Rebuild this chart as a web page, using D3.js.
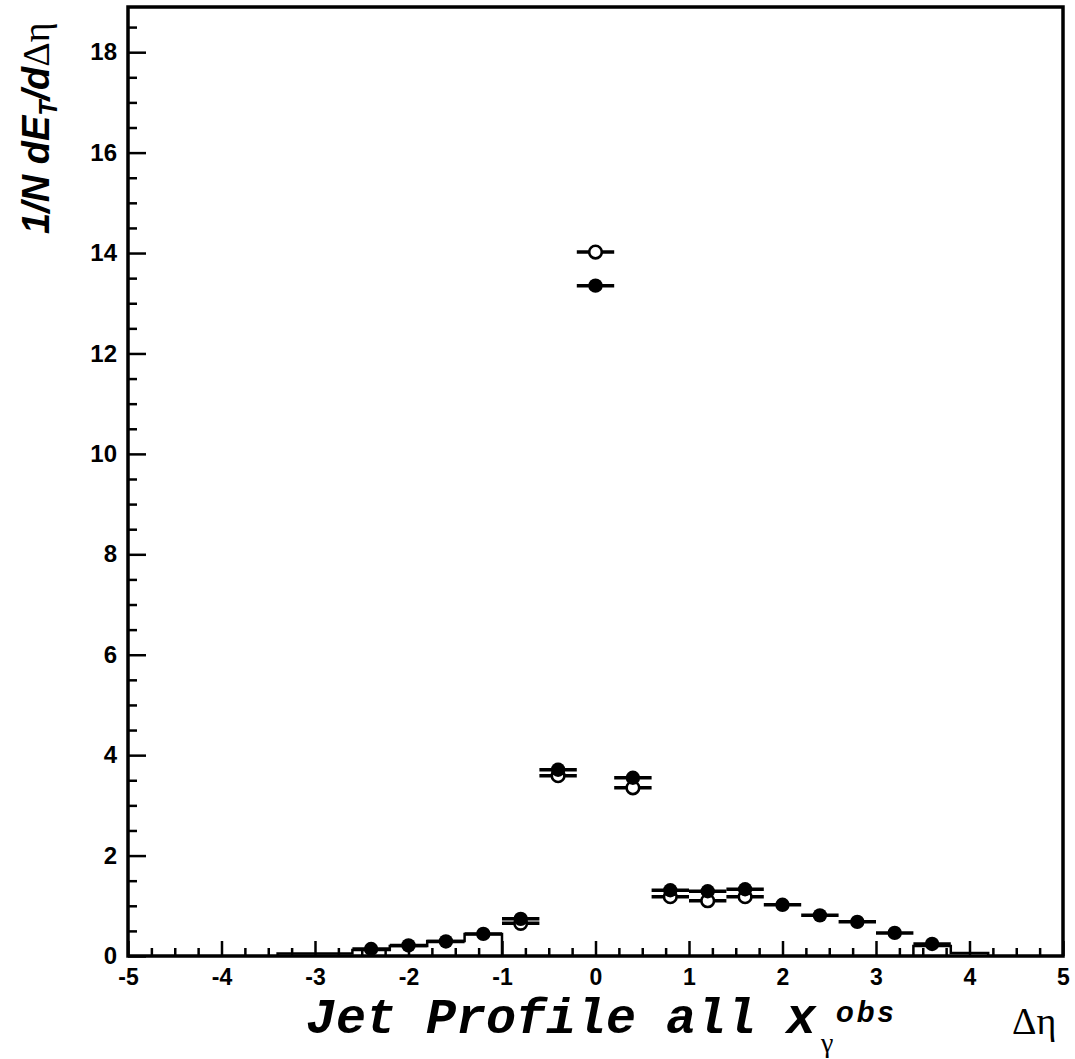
<!DOCTYPE html>
<html>
<head>
<meta charset="utf-8">
<script src="https://cdn.jsdelivr.net/npm/d3@7"></script>
<style>
  body { margin: 0; background: #fff; }
  .tick text { font-family: "Liberation Sans", Arial, sans-serif; font-weight: bold; }
</style>
</head>
<body>
<div class="vis"></div>
<script>
// frame dimensions
const FRAME_WIDTH = 1075;
const FRAME_HEIGHT = 1059;
const MARGINS = {left: 128, right: 12, top: 7, bottom: 103};

const VIS_WIDTH = FRAME_WIDTH - MARGINS.left - MARGINS.right;
const VIS_HEIGHT = FRAME_HEIGHT - MARGINS.top - MARGINS.bottom;

// data
const bin_centers = [-2.4, -2.0, -1.6, -1.2, -0.8, -0.4, 0.0, 0.4, 0.8, 1.2, 1.6, 2.0, 2.4, 2.8, 3.2, 3.6];
const filled_values = [0.14, 0.21, 0.29, 0.44, 0.74, 3.71, 13.35, 3.55, 1.31, 1.29, 1.33, 1.02, 0.81, 0.68, 0.46, 0.24];

const open_centers = [-0.8, -0.4, 0.0, 0.4, 0.8, 1.2, 1.6];
const open_values = [0.65, 3.59, 14.02, 3.35, 1.18, 1.10, 1.18];

// step histogram (bin edges and contents), only visible in the tails
const hist_edges = [-3.4, -3.0, -2.6, -2.2, -1.8, -1.4, -1.0, 3.4, 3.8, 4.2];
const hist_values = [0.05, 0.05, 0.12, 0.20, 0.30, 0.44, 0, 0.20, 0.06, 0];

const HALF_BIN = 0.2;

const x_major = [-5, -4, -3, -2, -1, 0, 1, 2, 3, 4, 5];
const y_major = [0, 2, 4, 6, 8, 10, 12, 14, 16, 18];

const FRAME = d3.select('.vis')
  .append('svg')
    .attr('width', FRAME_WIDTH)
    .attr('height', FRAME_HEIGHT);

// scales
const xscale = d3.scaleLinear()
  .domain([-5, 5])
  .range([0, VIS_WIDTH]);
const yscale = d3.scaleLinear()
  .domain([0, 18.9])
  .range([VIS_HEIGHT, 0]);

const g = FRAME.append('g')
  .attr('transform', 'translate(' + MARGINS.left + ',' + MARGINS.top + ')');

// minor ticks
const x_minor = d3.range(-5, 5.001, 0.25).filter((v) => Math.abs(v - Math.round(v)) > 0.01);
const y_minor = d3.range(0, 18.9, 0.5).filter((v) => Math.abs(v / 2 - Math.round(v / 2)) > 0.01);

g.append('g')
  .attr('transform', 'translate(0,' + VIS_HEIGHT + ')')
  .call(d3.axisBottom(xscale).tickValues(x_minor).tickSizeInner(-8).tickSizeOuter(0).tickFormat(''))
  .call((a) => a.select('.domain').remove())
  .call((a) => a.selectAll('line').attr('stroke-width', 2.5));

g.append('g')
  .call(d3.axisLeft(yscale).tickValues(y_minor).tickSizeInner(-9).tickSizeOuter(0).tickFormat(''))
  .call((a) => a.select('.domain').remove())
  .call((a) => a.selectAll('line').attr('stroke-width', 2.5));

// major ticks and labels
g.append('g')
  .attr('transform', 'translate(0,' + VIS_HEIGHT + ')')
  .call(d3.axisBottom(xscale).tickValues(x_major).tickSizeInner(-15).tickSizeOuter(0).tickPadding(13)
    .tickFormat((d) => d))
  .call((a) => a.select('.domain').remove())
  .call((a) => a.selectAll('line').attr('stroke-width', 2.5))
  .call((a) => a.selectAll('text').attr('font-size', '23px').attr('fill', '#000'));

g.append('g')
  .call(d3.axisLeft(yscale).tickValues(y_major).tickSizeInner(-18).tickSizeOuter(0).tickPadding(11)
    .tickFormat((d) => d))
  .call((a) => a.select('.domain').remove())
  .call((a) => a.selectAll('line').attr('stroke-width', 2.5))
  .call((a) => a.selectAll('text').attr('font-size', '24px').attr('fill', '#000'));

// frame box
g.append('rect')
  .attr('x', 0)
  .attr('y', 0)
  .attr('width', VIS_WIDTH)
  .attr('height', VIS_HEIGHT)
  .attr('fill', 'none')
  .attr('stroke', '#000')
  .attr('stroke-width', 3.5);

// step histogram: two separate pieces
function histPath(lo, hi) {
  let p = '';
  for (let i = lo; i < hi; i++) {
    const x0 = xscale(hist_edges[i]);
    const x1 = xscale(hist_edges[i + 1]);
    const y = yscale(hist_values[i]);
    if (i === lo) p += 'M' + x0 + ',' + yscale(0) + 'L' + x0 + ',' + y;
    else p += 'L' + x0 + ',' + y;
    p += 'L' + x1 + ',' + y;
  }
  p += 'L' + xscale(hist_edges[hi]) + ',' + yscale(0);
  return p;
}
g.append('path')
  .attr('d', histPath(0, 6))
  .attr('fill', 'none')
  .attr('stroke', '#000')
  .attr('stroke-width', 2.5);
g.append('path')
  .attr('d', histPath(7, 9))
  .attr('fill', 'none')
  .attr('stroke', '#000')
  .attr('stroke-width', 2.5);

// open points
const open_data = open_centers.map((c, i) => ({x: c, y: open_values[i]}));
const filled_data = bin_centers.map((c, i) => ({x: c, y: filled_values[i]}));

g.selectAll('.openbar')
  .data(open_data)
  .enter().append('line')
    .attr('x1', (d) => xscale(d.x - HALF_BIN))
    .attr('x2', (d) => xscale(d.x + HALF_BIN))
    .attr('y1', (d) => yscale(d.y))
    .attr('y2', (d) => yscale(d.y))
    .attr('stroke', '#000')
    .attr('stroke-width', 3.5);

g.selectAll('.openpt')
  .data(open_data)
  .enter().append('circle')
    .attr('cx', (d) => xscale(d.x))
    .attr('cy', (d) => yscale(d.y))
    .attr('r', 6.3)
    .attr('fill', '#fff')
    .attr('stroke', '#000')
    .attr('stroke-width', 2.6);

// filled points
g.selectAll('.filledbar')
  .data(filled_data)
  .enter().append('line')
    .attr('x1', (d) => xscale(d.x - HALF_BIN))
    .attr('x2', (d) => xscale(d.x + HALF_BIN))
    .attr('y1', (d) => yscale(d.y))
    .attr('y2', (d) => yscale(d.y))
    .attr('stroke', '#000')
    .attr('stroke-width', 3.5);

g.selectAll('.filledpt')
  .data(filled_data)
  .enter().append('circle')
    .attr('cx', (d) => xscale(d.x))
    .attr('cy', (d) => yscale(d.y))
    .attr('r', 7.2)
    .attr('fill', '#000');

// y axis title
const ytitle = FRAME.append('text')
  .attr('transform', 'translate(49,234) rotate(-90)')
  .attr('font-family', '"Liberation Sans", Arial, sans-serif')
  .attr('font-weight', 'bold')
  .attr('font-style', 'italic')
  .attr('font-size', '38px');
ytitle.append('tspan').text('1/N dE');
ytitle.append('tspan').attr('font-size', '25px').attr('dy', 8).text('T');
ytitle.append('tspan').attr('dy', -8).text('/d');
ytitle.append('tspan').attr('font-family', '"Liberation Serif", "Times New Roman", serif')
  .attr('font-weight', 'normal').attr('font-style', 'normal').text('Δη');

// x axis title
FRAME.append('text')
  .attr('x', 306)
  .attr('y', 1033)
  .attr('font-family', '"Liberation Mono", "Courier New", monospace')
  .attr('font-weight', 'bold')
  .attr('font-style', 'italic')
  .attr('font-size', '50px')
  .text('Jet Profile all x');

FRAME.append('text')
  .attr('x', 821)
  .attr('y', 1052)
  .attr('font-family', '"Liberation Serif", "Times New Roman", serif')
  .attr('font-size', '28px')
  .text('γ');

FRAME.append('text')
  .attr('x', 836)
  .attr('y', 1022)
  .attr('font-family', '"Liberation Sans", Arial, sans-serif')
  .attr('font-weight', 'bold')
  .attr('font-style', 'italic')
  .attr('font-size', '29px')
  .attr('letter-spacing', '3px')
  .text('obs');

FRAME.append('text')
  .attr('x', 1012)
  .attr('y', 1034)
  .attr('font-family', '"Liberation Serif", "Times New Roman", serif')
  .attr('font-size', '38px')
  .text('Δη');
</script>
</body>
</html>
